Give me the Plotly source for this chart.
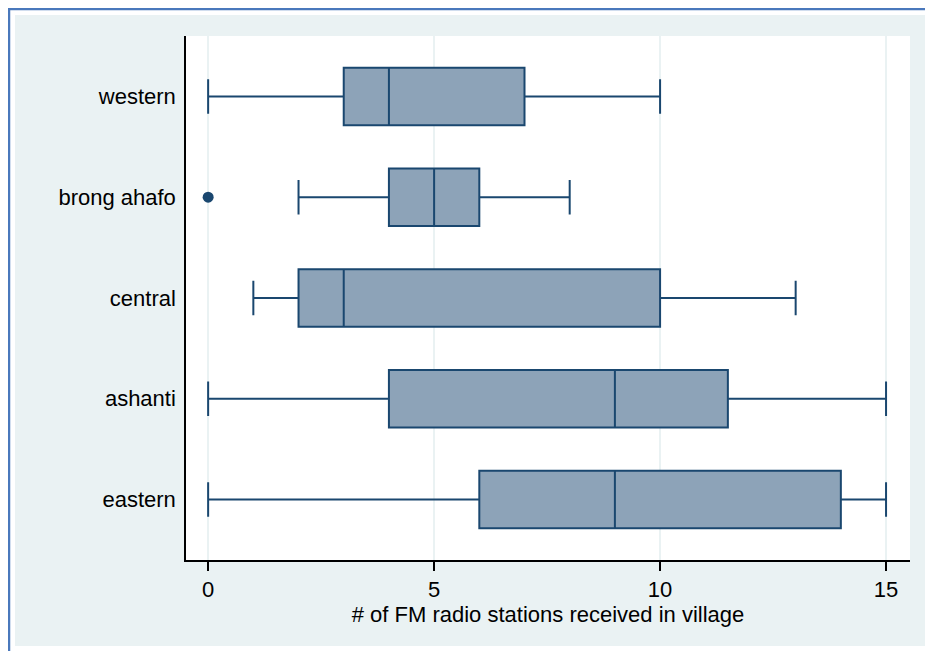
import plotly.graph_objects as go

# ---- data ----
regions = ["eastern", "ashanti", "central", "brong ahafo", "western"]
lower_whisker = [0, 0, 1, 2, 0]
q1_vals = [6, 4, 2, 4, 3]
median_vals = [9, 9, 3, 5, 4]
q3_vals = [14, 11.5, 10, 6, 7]
upper_whisker = [15, 15, 13, 8, 10]
outlier_region = ["brong ahafo"]
outlier_vals = [0]
x_ticks = [0, 5, 10, 15]
x_title = "# of FM radio stations received in village"

NAVY = "#1A476F"
FILL = "#8DA3B8"
BG = "#EAF2F3"
FONT = "Liberation Sans, Arial, sans-serif"

# page has an 8px body margin; figure coordinates = page coordinates - 8
OFF = 8
W, H = 933 - OFF, 651 - OFF
ML, MR, MT, MB = 186 - OFF, 23, 36 - OFF, 91
PW, PH = W - ML - MR, H - MT - MB


def px(x):
    return (x - OFF - ML) / PW


def py(y):
    return (H - MB - (y - OFF)) / PH


fig = go.Figure()
fig.add_trace(go.Box(
    y=regions,
    q1=q1_vals,
    median=median_vals,
    q3=q3_vals,
    lowerfence=lower_whisker,
    upperfence=upper_whisker,
    orientation="h",
    boxpoints=False,
    width=0.57,
    whiskerwidth=0.6,
    fillcolor=FILL,
    line=dict(color=NAVY, width=2),
    showlegend=False,
))
fig.add_trace(go.Scatter(
    x=outlier_vals,
    y=outlier_region,
    mode="markers",
    marker=dict(color=NAVY, size=11, line=dict(color=NAVY, width=0)),
    showlegend=False,
))

shapes = [
    dict(type="rect", xref="paper", yref="paper", layer="below",
         x0=px(15), x1=px(940), y0=py(646), y1=py(15),
         fillcolor=BG, line=dict(width=0)),
    dict(type="rect", xref="paper", yref="paper", layer="below",
         x0=0, x1=1, y0=0, y1=1, fillcolor="white", line=dict(width=0)),
    dict(type="line", xref="paper", yref="paper", layer="above",
         x0=px(9), x1=px(9), y0=py(660), y1=py(8),
         line=dict(color="#4A78BC", width=2.5)),
    dict(type="line", xref="paper", yref="paper", layer="above",
         x0=px(8), x1=px(940), y0=py(9), y1=py(9),
         line=dict(color="#4A78BC", width=2.5)),
]

fig.update_layout(
    width=W, height=H,
    margin=dict(l=ML, r=MR, t=MT, b=MB),
    paper_bgcolor="white",
    plot_bgcolor="white",
    shapes=shapes,
    font=dict(family=FONT, size=22, color="black"),
    xaxis=dict(
        range=[-0.49, 15.53],
        tickvals=x_ticks,
        ticktext=[str(t) for t in x_ticks],
        ticks="outside", ticklen=9, tickwidth=1.5, tickcolor="black",
        showline=True, linecolor="black", linewidth=1.5,
        showgrid=True, gridcolor=BG, gridwidth=1.5,
        zeroline=False,
        tickfont=dict(size=22),
        title=dict(text=x_title, font=dict(size=22), standoff=3),
    ),
    yaxis=dict(
        type="category",
        categoryorder="array", categoryarray=regions,
        range=[-0.6, 4.6],
        showline=True, linecolor="black", linewidth=1.5,
        showgrid=False, zeroline=False,
        ticks="outside", ticklen=4, tickcolor="rgba(0,0,0,0)",
        tickfont=dict(size=22),
    ),
)

fig.write_html("out.html")
